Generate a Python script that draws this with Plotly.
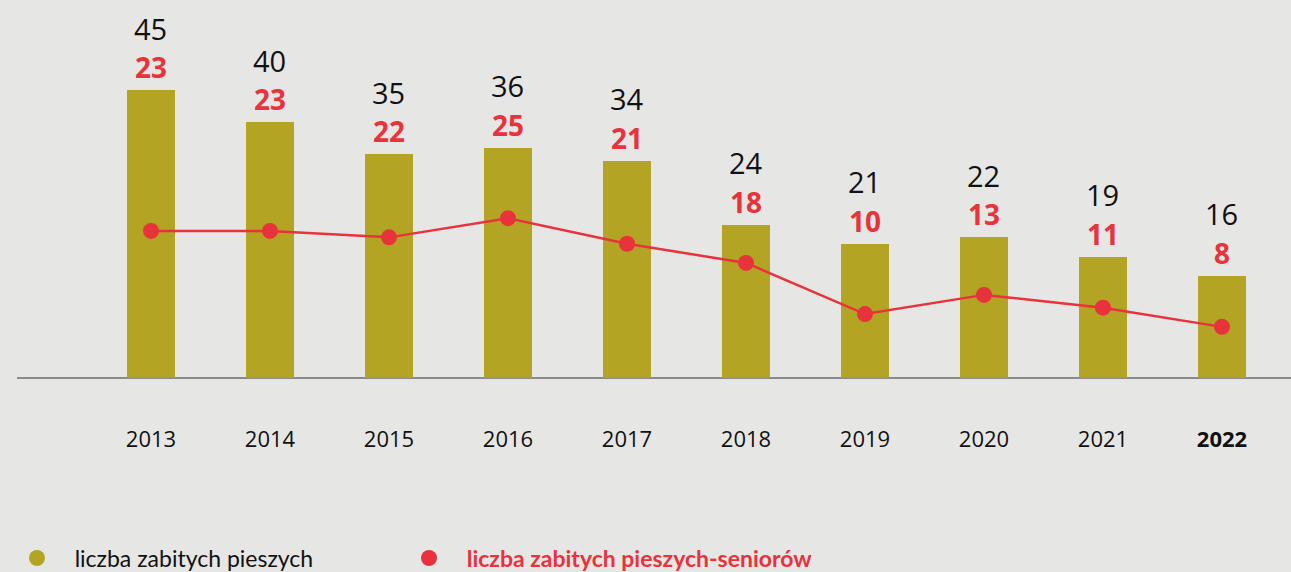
import plotly.graph_objects as go

years = [2013, 2014, 2015, 2016, 2017, 2018, 2019, 2020, 2021, 2022]
tick_labels = ["2013", "2014", "2015", "2016", "2017", "2018", "2019", "2020", "2021", "<b>2022</b>"]
pedestrians = [45, 40, 35, 36, 34, 24, 21, 22, 19, 16]
seniors = [23, 23, 22, 25, 21, 18, 10, 13, 11, 8]

OLIVE = "#b3a523"
RED = "#e8323c"
BG = "#e6e6e5"
FONT = "Lato"
NUMFONT = "Open Sans"
NB = "\u00a0" * 3

fig = go.Figure()
fig.add_trace(go.Bar(x=years, y=pedestrians, width=0.40, marker=dict(color=OLIVE, line=dict(width=0)),
                     showlegend=False, hoverinfo="skip"))
fig.add_trace(go.Scatter(x=years, y=seniors, mode="lines+markers",
                         line=dict(color=RED, width=2.5), marker=dict(color=RED, size=16),
                         showlegend=False, hoverinfo="skip"))

# legend proxies
fig.add_trace(go.Scatter(x=[None], y=[None], mode="markers", marker=dict(color=OLIVE, size=22),
                         name=NB + "liczba zabitych pieszych", legend="legend"))
fig.add_trace(go.Scatter(x=[None], y=[None], mode="markers", marker=dict(color=RED, size=22),
                         name=NB + "<b><span style='color:%s'>liczba zabitych pieszych-seniorów</span></b>" % RED,
                         legend="legend2"))

for x, p, s in zip(years, pedestrians, seniors):
    fig.add_annotation(x=x, y=p, text=str(p), showarrow=False, yshift=62, yanchor="middle",
                       font=dict(family=NUMFONT, size=29, color="#111111"))
    fig.add_annotation(x=x, y=p, text="<b>%d</b>" % s, showarrow=False, yshift=23, yanchor="middle",
                       font=dict(family=NUMFONT, size=28, color=RED))

leg_common = dict(orientation="h", xanchor="left", y=-0.503, yanchor="middle",
                  font=dict(family=FONT, size=23, color="#111111"),
                  itemsizing="trace", bgcolor="rgba(0,0,0,0)")

fig.update_layout(
    width=1291, height=572,
    paper_bgcolor=BG, plot_bgcolor=BG,
    margin=dict(l=17, r=0, t=20, b=194, autoexpand=False),
    font=dict(family=FONT, size=20, color="#111111"),
    bargap=0,
    legend=dict(x=0, **leg_common),
    legend2=dict(x=0.3077, **leg_common),
    xaxis=dict(range=[2011.874, 2022.58], tickmode="array", tickvals=years, ticktext=tick_labels,
               showgrid=False, zeroline=False, showline=False, ticks="",
               ticklabelstandoff=46, tickfont=dict(family=NUMFONT, size=22, color="#111111")),
    yaxis=dict(range=[0, 56], showgrid=False, zeroline=True, zerolinecolor="#8a8a8a", zerolinewidth=1.5,
               showticklabels=False, showline=False, ticks=""),
)

fig.write_html("out.html", config={"displayModeBar": False},
               post_script="document.body.style.margin='0';document.body.style.background='%s';" % BG)
